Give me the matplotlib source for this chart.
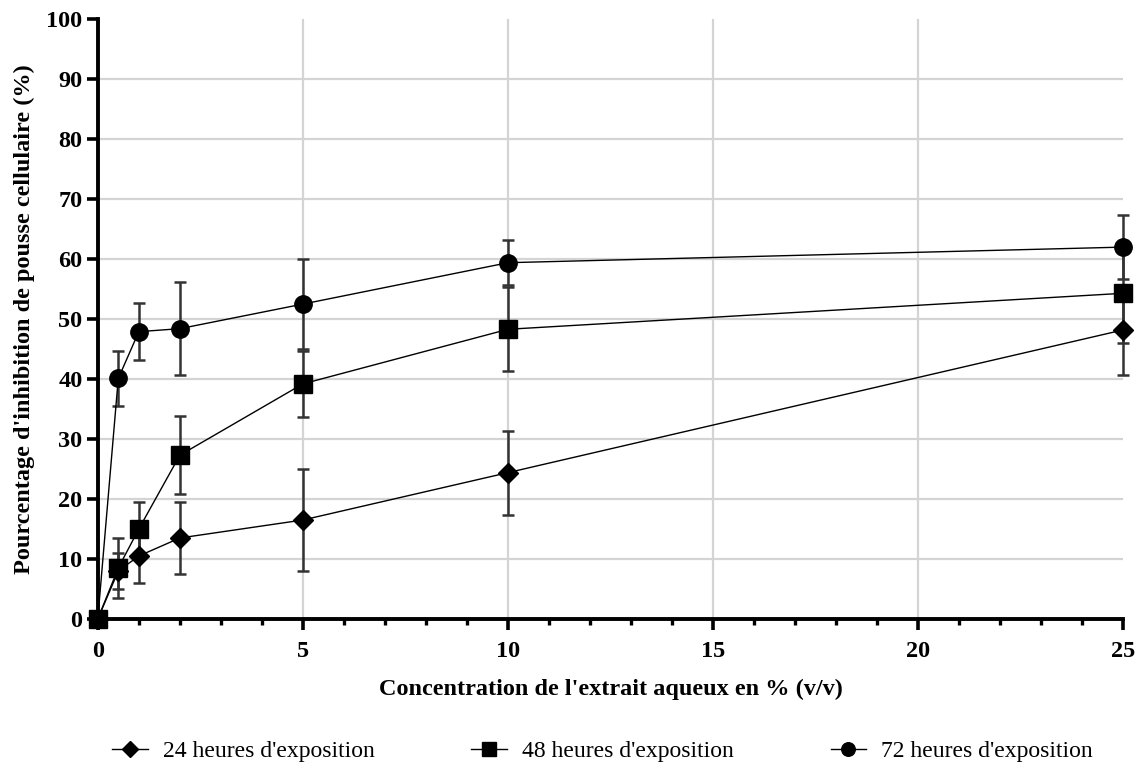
import numpy as np
import matplotlib
matplotlib.use("Agg")
import matplotlib.pyplot as plt
from matplotlib.ticker import MultipleLocator

# ── Data ─────────────────────────────────────────────────────────────────────
conc = [0, 0.5, 1, 2, 5, 10, 25]

h24 = [0, 8.0, 10.5, 13.5, 16.5, 24.4, 48.2]
h24_err = [0, 3.0, 4.5, 6.0, 8.5, 7.0, 7.5]

h48 = [0, 8.5, 15.0, 27.3, 39.2, 48.3, 54.3]
h48_err = [0, 5.0, 4.5, 6.5, 5.5, 7.0, 8.3]

h72 = [0, 40.1, 47.9, 48.4, 52.5, 59.4, 62.0]
h72_err = [0, 4.6, 4.8, 7.8, 7.5, 3.8, 5.3]

labels = ["24 heures d'exposition", "48 heures d'exposition", "72 heures d'exposition"]

plt.rcParams["font.family"] = ["Liberation Serif", "DejaVu Serif"]

fig = plt.figure(figsize=(11.37, 7.67), dpi=100)
ax = fig.add_axes([0.086, 0.193, 0.902, 0.782])

# ── Grid (manual, light grey) ────────────────────────────────────────────────
for yv in range(10, 100, 10):
    ax.axhline(yv, color="#d4d4d4", lw=1.6, zorder=0)
for xv in [5, 10, 15, 20]:
    ax.axvline(xv, color="#d4d4d4", lw=1.6, zorder=0)

series = [
    (h24, h24_err, "D", 10),
    (h48, h48_err, "s", 12.5),
    (h72, h72_err, "o", 12.5),
]
handles = []
for (vals, errs, mk, ms), lab in zip(series, labels):
    ax.errorbar(conc, vals, yerr=errs, fmt="none", ecolor="#333333",
                elinewidth=1.8, capsize=4, capthick=1.8, zorder=3,
                clip_on=False)
    ln, = ax.plot(conc, vals, color="black", lw=1.0, marker=mk, ms=ms,
                  mfc="black", mec="black", zorder=4, clip_on=False, label=lab)
    handles.append(ln)

ax.set_xlim(0, 25)
ax.set_ylim(0, 100)
ax.xaxis.set_major_locator(MultipleLocator(5))
ax.xaxis.set_minor_locator(MultipleLocator(1))
ax.yaxis.set_major_locator(MultipleLocator(10))

for side in ["top", "right"]:
    ax.spines[side].set_visible(False)
for side in ["left", "bottom"]:
    ax.spines[side].set_linewidth(2.8)

ax.tick_params(axis="both", which="major", length=8, width=2.6, labelsize=17.5)
ax.tick_params(axis="x", which="major", pad=8)
ax.tick_params(axis="y", which="major", pad=3)
ax.tick_params(axis="x", which="minor", length=4.5, width=2.4)
for t in ax.get_xticklabels() + ax.get_yticklabels():
    t.set_fontweight("bold")

ax.set_xlabel("Concentration de l'extrait aqueux en % (v/v)", fontsize=17.5,
              fontweight="bold", labelpad=12)
ax.set_ylabel("Pourcentage d'inhibition de pousse cellulaire (%)", fontsize=17.5,
              fontweight="bold", labelpad=8)

fig.legend(handles=handles, labels=labels, loc="center",
           bbox_to_anchor=(0.53, 0.02), ncol=3, frameon=False, fontsize=17,
           columnspacing=4.1, handlelength=1.5, handletextpad=0.65,
           markerscale=0.78)

fig.savefig("out.png", dpi=100, facecolor="white")
